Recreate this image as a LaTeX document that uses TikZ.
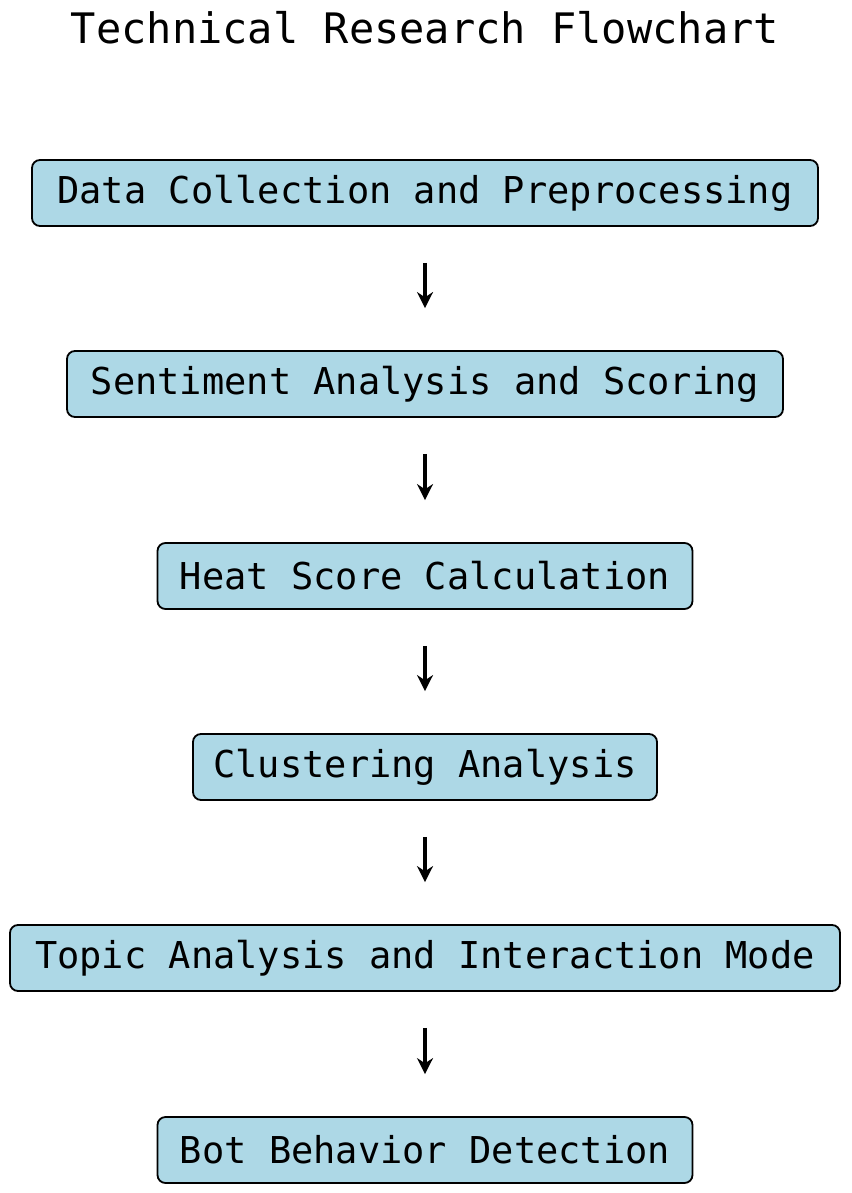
\documentclass[tikz,border=0pt]{standalone}
\usepackage{fontspec}
\setmonofont{DejaVu Sans Mono}
\usetikzlibrary{arrows.meta}
\definecolor{boxblue}{RGB}{173,216,230}
\begin{document}
\begin{tikzpicture}[x=1pt,y=-1pt,
  stepbox/.style={draw=black, line width=1.8pt, fill=boxblue, rounded corners=8pt,
    minimum height=66pt, inner xsep=0pt, font=\ttfamily\fontsize{37}{40}\selectfont},
  arr/.style={-{Stealth[length=16pt,width=16pt]}, line width=4pt}]
\useasboundingbox (0,0) rectangle (851,1193);
\node[font=\ttfamily\fontsize{42}{46}\selectfont] (title) at (425,28) {Technical Research Flowchart};
\node[stepbox, minimum width=786pt] (s1) at (425,193) {Data Collection and Preprocessing};
\node[stepbox, minimum width=716pt] (s2) at (425,384) {Sentiment Analysis and Scoring};
\node[stepbox, minimum width=535pt] (s3) at (425,576) {Heat Score Calculation};
\node[stepbox, minimum width=464pt] (s4) at (425,767) {Clustering Analysis};
\node[stepbox, minimum width=830pt] (s5) at (425,958) {Topic Analysis and Interaction Mode};
\node[stepbox, minimum width=535pt] (s6) at (425,1150) {Bot Behavior Detection};
\foreach \a/\b in {s1/s2,s2/s3,s3/s4,s4/s5,s5/s6}
  \draw[arr, shorten <=36pt, shorten >=42pt] (\a.south) -- (\b.north);
\end{tikzpicture}
\end{document}
